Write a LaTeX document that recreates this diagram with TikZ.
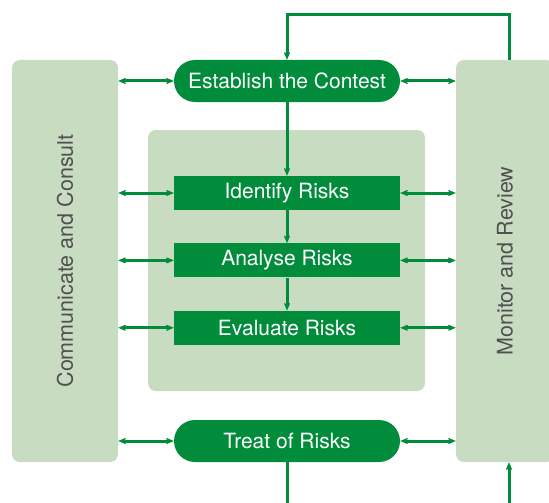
\documentclass[tikz,border=0pt]{standalone}
\usepackage{fontspec}
\setmainfont{TeX Gyre Heros}
\usetikzlibrary{arrows.meta,positioning}
\definecolor{dkgreen}{RGB}{0,140,58}
\definecolor{ltgreen}{RGB}{199,220,192}
\definecolor{txgray}{RGB}{80,80,80}

\begin{document}
\begin{tikzpicture}[x=1pt,y=-1pt,node distance=33pt]
\useasboundingbox (0,0) rectangle (549,503);
\clip (0,0) rectangle (549,503);
\tikzstyle{panel}=[fill=ltgreen, rounded corners=8pt, inner sep=0pt,
  text=txgray, font=\fontsize{21.5}{24}\selectfont]
\tikzstyle{pill}=[fill=dkgreen, text=white, rounded corners=21pt,
  minimum width=226pt, minimum height=42pt, font=\fontsize{21}{24}\selectfont]
\tikzstyle{stage}=[fill=dkgreen, text=white, minimum width=226pt,
  minimum height=34pt, inner sep=0pt, font=\fontsize{21}{24}\selectfont]
\node[panel, minimum width=106pt, minimum height=402pt] (cc) at (65,261) {\rotatebox{90}{Communicate and Consult}};
\node[panel, minimum width=98pt, minimum height=402pt] (mr) at (505,261) {\rotatebox{90}{Monitor and Review}};
\node[panel, minimum width=277pt, minimum height=261pt] (core) at (286.5,260.5) {};
\node[pill] (est) at (287,81) {Establish the Contest};
\node[stage] (ident) at (287,193) {Identify Risks};
\node[stage, below=of ident] (anal) {Analyse Risks};
\node[stage, below=of anal] (eval) {Evaluate Risks};
\node[pill] (treat) at (287,441) {Treat of Risks};
\coordinate (edge) at (509,510);
\tikzstyle{darrow}=[{Stealth[length=13pt,width=11pt,inset=8.5pt]}-{Stealth[length=13pt,width=11pt,inset=8.5pt]}, dkgreen, line width=3pt]
\tikzstyle{farrow}=[-{Stealth[length=13pt,width=11pt,inset=8.5pt]}, dkgreen, line width=3pt]
\foreach \n in {est,ident,anal,eval,treat} {
  \draw[darrow] (cc.east |- \n.west) -- (\n.west);
  \draw[darrow] (\n.east) -- (mr.west |- \n.east);
}
\draw[farrow] (est) -- (ident);
\draw[farrow] (ident) -- (anal);
\draw[farrow] (anal) -- (eval);
\draw[farrow] ([xshift=4pt]mr.north) -- ++(0,-45) -| (est.north);
\draw[farrow] (edge) -- ([xshift=4pt]mr.south);
\draw[dkgreen, line width=3pt] (treat.south) -- (treat.south |- edge);
\end{tikzpicture}
\end{document}
